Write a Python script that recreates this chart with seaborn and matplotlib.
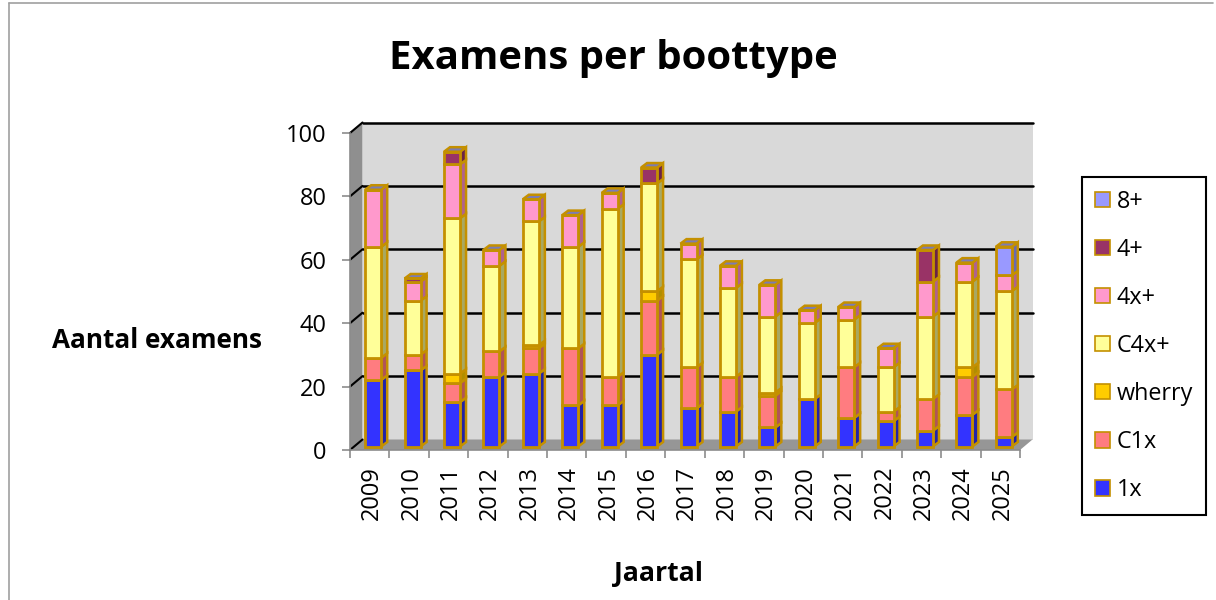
import numpy as np
import pandas as pd
import seaborn as sns
import matplotlib.pyplot as plt
from matplotlib.patches import Patch, Polygon, Rectangle
from matplotlib.lines import Line2D
from matplotlib.transforms import Affine2D

# Data
years = [str(y) for y in range(2009, 2026)]
s_1x = [21, 24, 14, 22, 23, 13, 13, 29, 12, 11, 6, 15, 9, 8, 5, 10, 3]
s_c1x = [7, 5, 6, 8, 8, 18, 9, 17, 13, 11, 10, 0, 16, 3, 10, 12, 15]
s_wherry = [0, 0, 3, 0, 1, 0, 0, 3, 0, 0, 1, 0, 0, 0, 0, 3, 0]
s_c4x = [35, 17, 49, 27, 39, 32, 53, 34, 34, 28, 24, 24, 15, 14, 26, 27, 31]
s_4x = [18, 6, 17, 5, 7, 10, 5, 0, 5, 7, 10, 4, 4, 6, 11, 6, 5]
s_4p = [0, 1, 4, 0, 0, 0, 0, 5, 0, 0, 0, 0, 0, 0, 10, 0, 0]
s_8p = [0, 0, 0, 0, 0, 0, 0, 0, 0, 0, 0, 0, 0, 0, 0, 0, 9]

series = ["1x", "C1x", "wherry", "C4x+", "4x+", "4+", "8+"]
values = [s_1x, s_c1x, s_wherry, s_c4x, s_4x, s_4p, s_8p]
colors = ["#3333ff", "#ff7c80", "#ffcc00", "#ffff99", "#ff99cc", "#993366", "#9999ff"]
sides = ["#2222a8", "#b05458", "#b08e00", "#a8a862", "#b0628c", "#6b2347", "#6a6ab0"]
top_color = "#7c7cb4"
edge = "#c49000"

sns.set_theme(style="white")
plt.rcParams["font.family"] = ["Open Sans", "DejaVu Sans"]

W, H = 1216, 600
fig = plt.figure(figsize=(W / 100, H / 100), dpi=100)
ax = fig.add_axes([350 / W, 1 - 450 / H, 670 / W, 317 / H])
ax.patch.set_visible(False)

px_x = 670 / 17
px_y = 3.17
bar_shift = Affine2D().translate(3.5, 3.5)
wall_shift = Affine2D().translate(12.5, 10.5)
data_shift = ax.transData + bar_shift
wall = ax.transData + wall_shift

# walls and floor
ax.add_patch(Rectangle((-0.5, 0), 17, 100, transform=wall, fc="#d9d9d9", ec="none", clip_on=False, zorder=0))
dx, dy = 12.5 / px_x, 10.5 / px_y
ax.add_patch(Polygon([(-0.5, 0), (-0.5 + dx, dy), (-0.5 + dx, 100 + dy), (-0.5, 100)],
                     fc="#8f8f8f", ec="none", clip_on=False, zorder=0))
ax.add_patch(Polygon([(-0.5, 0), (16.5, 0), (16.5 + dx, dy), (-0.5 + dx, dy)],
                     fc="#969696", ec="none", clip_on=False, zorder=0))

# gridlines run over the back wall and down the side wall
for t in range(20, 101, 20):
    ax.plot([-0.5 + dx, 16.5 + dx], [t + dy, t + dy], color="black", lw=1.8, clip_on=False, zorder=1)
for t in range(0, 101, 20):
    ax.plot([-0.5, -0.5 + dx], [t, t + dy], color="black", lw=1.5, clip_on=False, zorder=1)

# stacked front faces
df = pd.DataFrame(dict(zip(series, values)), index=years)
bottoms = np.zeros(len(years))
bar_w = 16 / px_x
for name, col in zip(series, colors):
    sns.barplot(x=years, y=df[name].values, bottom=bottoms, color=col, saturation=1, width=bar_w,
                edgecolor=edge, linewidth=2, ax=ax, zorder=4)
    bottoms = bottoms + df[name].values
for p in ax.patches:
    if isinstance(p, Rectangle) and p.get_zorder() == 4:
        p.set_transform(data_shift)
        p.set_clip_on(False)

# depth of the columns: side faces and top
depth_x, depth_y = 6 / px_x, 4.5 / px_y
bottoms = np.zeros(len(years))
for name, side in zip(series, sides):
    vals = df[name].values
    for i, v in enumerate(vals):
        if v == 0:
            continue
        xr = i + bar_w / 2
        b = bottoms[i]
        ax.add_patch(Polygon([(xr, b), (xr + depth_x, b + depth_y), (xr + depth_x, b + v + depth_y), (xr, b + v)],
                             transform=data_shift, fc=side, ec=edge, lw=1.8, clip_on=False, zorder=3))
    bottoms = bottoms + vals
for i, t in enumerate(bottoms):
    xl, xr = i - bar_w / 2, i + bar_w / 2
    ax.add_patch(Polygon([(xl, t), (xr, t), (xr + depth_x, t + depth_y), (xl + depth_x, t + depth_y)],
                         transform=data_shift, fc=top_color, ec=edge, lw=1.8, clip_on=False, zorder=3))

ax.set_xlim(-0.5, 16.5)
ax.set_ylim(0, 100)
ax.set_yticks(range(0, 101, 20))
ax.set_xticks(np.arange(-0.5, 17, 1), minor=False, labels=[""] * 18)
for i, y in enumerate(years):
    ax.text(i + 0.06, -5.0, y, rotation=90, ha="center", va="top", fontsize=17, color="black")
ax.tick_params(axis="y", length=6, width=1.2, color="#8c8c8c", labelsize=17, pad=11, labelcolor="black", left=True)
ax.tick_params(axis="x", length=6, width=1.2, color="#8c8c8c", bottom=True)
sns.despine(ax=ax, top=True, right=True)
for s in ["left", "bottom"]:
    ax.spines[s].set_color("#8c8c8c")
    ax.spines[s].set_linewidth(1.2)

# text
fig.text(613 / W, 1 - 59 / H, "Examens per boottype", ha="center", va="center", fontsize=28.9, fontweight="bold", color="black")
fig.text(157 / W, 1 - 340 / H, "Aantal examens", ha="center", va="center", fontsize=18.8, fontweight="bold", color="black")
fig.text(659 / W, 1 - 574 / H, "Jaartal", ha="center", va="center", fontsize=19.2, fontweight="bold", color="black")

# legend
handles = [Patch(fc=c, ec=edge, lw=1.2, label=n) for n, c in zip(series, colors)][::-1]
leg = fig.legend(handles=handles, loc="upper left", bbox_to_anchor=(1082 / W, 1 - 177 / H), frameon=True,
                 fancybox=False, edgecolor="black", framealpha=1, fontsize=16.8, handlelength=0.64, handleheight=0.64,
                 handletextpad=0.3, labelspacing=1.03, borderpad=0.55, borderaxespad=0, labelcolor="black")
leg.get_frame().set_linewidth(1.5)

# outer chart border: left and top only reach the edge of the crop
fig.add_artist(Line2D([8.5 / W, 8.5 / W], [0, 1 - 2.5 / H], transform=fig.transFigure, color="#a0a0a0", lw=1.2))
fig.add_artist(Line2D([8.5 / W, 1213 / W], [1 - 2.5 / H, 1 - 2.5 / H], transform=fig.transFigure, color="#a0a0a0", lw=1.2))

fig.savefig("out.png", dpi=100)
